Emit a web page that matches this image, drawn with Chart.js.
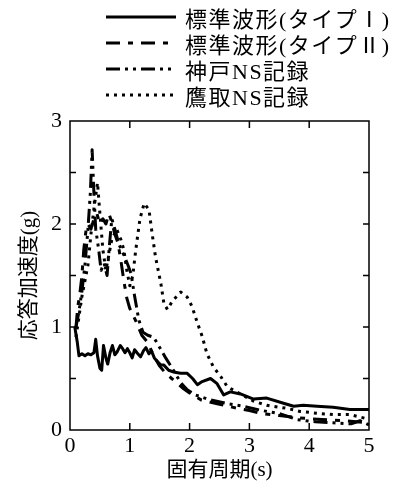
<!DOCTYPE html>
<html lang="ja">
<head>
<meta charset="UTF-8">
<title>応答加速度スペクトル</title>
<style>
    body {
        margin: 0;
        background: #fff;
        font-family: "Liberation Serif", "Noto Sans CJK JP", serif;
    }
    #wrap {
        position: relative;
        width: 413px;
        height: 488px;
    }
    #legend {
        position: absolute;
        left: 106px;
        top: 4px;
    }
    .row {
        display: flex;
        align-items: center;
        height: 26px;
        font-size: 22px;
        letter-spacing: 1.5px;
        color: #000;
        white-space: nowrap;
    }
    .row svg {
        width: 70px;
        height: 10px;
        margin-right: 9px;
    }
</style>
</head>
<body>
<div id="wrap">
    <canvas id="spectrum" width="413" height="488"></canvas>
    <div id="legend"></div>
</div>

<script src="https://cdn.jsdelivr.net/npm/chart.js"></script>
<script>
// 固有周期 (s) と応答加速度 (g)
const typeIPeriod = [0.08, 0.12, 0.15, 0.2, 0.25, 0.3, 0.35, 0.4, 0.43, 0.46, 0.5, 0.53, 0.56, 0.6, 0.63, 0.67, 0.71, 0.75, 0.79, 0.84, 0.88, 0.92, 0.96, 1.0, 1.04, 1.08, 1.12, 1.18, 1.23, 1.27, 1.32, 1.36, 1.41, 1.47, 1.52, 1.57, 1.65, 1.75, 1.85, 1.96, 2.05, 2.13, 2.21, 2.35, 2.46, 2.57, 2.68, 2.85, 3.07, 3.29, 3.57, 3.74, 3.9, 4.13, 4.4, 4.68, 5.0];
const typeIAccel  = [1.0, 0.86, 0.72, 0.74, 0.72, 0.74, 0.73, 0.75, 0.88, 0.72, 0.6, 0.58, 0.82, 0.7, 0.64, 0.75, 0.82, 0.73, 0.76, 0.82, 0.79, 0.75, 0.79, 0.75, 0.7, 0.78, 0.75, 0.71, 0.77, 0.8, 0.74, 0.77, 0.7, 0.66, 0.63, 0.63, 0.58, 0.56, 0.55, 0.55, 0.5, 0.44, 0.47, 0.5, 0.45, 0.34, 0.37, 0.35, 0.3, 0.31, 0.26, 0.23, 0.24, 0.23, 0.22, 0.2, 0.2];

const typeIIPeriod = [0.1, 0.13, 0.16, 0.2, 0.23, 0.27, 0.3, 0.35, 0.4, 0.45, 0.5, 0.55, 0.6, 0.65, 0.7, 0.75, 0.8, 0.85, 0.9, 0.95, 1.0, 1.1, 1.2, 1.3, 1.4, 1.5, 1.6, 1.7, 1.8, 1.9, 2.0, 2.2, 2.5, 2.8, 3.0, 3.2, 3.5, 3.8, 4.0, 4.3, 4.6, 5.0];
const typeIIAccel  = [1.0, 1.2, 1.3, 1.5, 1.75, 1.95, 2.0, 1.95, 2.05, 2.1, 2.0, 2.05, 2.0, 2.1, 2.02, 1.9, 1.82, 1.65, 1.45, 1.28, 1.18, 1.06, 0.92, 0.85, 0.72, 0.62, 0.55, 0.5, 0.45, 0.4, 0.36, 0.29, 0.25, 0.21, 0.19, 0.16, 0.14, 0.12, 0.11, 0.1, 0.09, 0.07];

const kobePeriod = [0.1, 0.15, 0.2, 0.25, 0.3, 0.34, 0.37, 0.4, 0.43, 0.48, 0.52, 0.57, 0.62, 0.66, 0.7, 0.75, 0.82, 0.9, 0.97, 1.02, 1.08, 1.15, 1.22, 1.3, 1.4, 1.5, 1.6, 1.73, 1.85, 1.96, 2.1, 2.3, 2.6, 2.9, 3.2, 3.5, 3.8, 4.1, 4.4, 4.7, 4.85, 5.0];
const kobeAccel  = [1.0, 1.15, 1.35, 1.6, 1.95, 2.3, 2.72, 2.3, 1.95, 1.75, 1.55, 1.62, 1.5, 1.8, 2.05, 1.95, 1.8, 1.7, 1.6, 1.52, 1.3, 1.07, 0.95, 0.92, 0.9, 0.8, 0.7, 0.58, 0.46, 0.39, 0.34, 0.3, 0.26, 0.23, 0.19, 0.16, 0.1, 0.08, 0.07, 0.06, 0.09, 0.05];

const takatoriPeriod = [0.1, 0.15, 0.2, 0.25, 0.3, 0.35, 0.4, 0.46, 0.5, 0.55, 0.6, 0.65, 0.7, 0.78, 0.85, 0.9, 0.95, 1.0, 1.05, 1.1, 1.17, 1.24, 1.32, 1.38, 1.43, 1.52, 1.57, 1.63, 1.71, 1.85, 1.96, 2.04, 2.13, 2.21, 2.29, 2.4, 2.52, 2.63, 2.79, 3.07, 3.29, 3.63, 3.85, 4.18, 4.4, 4.68, 4.96];
const takatoriAccel  = [0.9, 1.1, 1.3, 1.45, 1.6, 1.9, 2.15, 2.4, 2.1, 1.75, 1.55, 1.7, 1.85, 1.95, 1.85, 1.75, 1.55, 1.4, 1.5, 1.75, 2.05, 2.2, 2.14, 1.88, 1.68, 1.42, 1.23, 1.17, 1.25, 1.34, 1.29, 1.2, 1.04, 0.91, 0.74, 0.61, 0.52, 0.42, 0.37, 0.28, 0.24, 0.21, 0.18, 0.16, 0.15, 0.15, 0.11];

const xTicks = [0, 1, 2, 3, 4, 5];
const yTicks = [0, 1, 2, 3];

const series = [
    { label: '標準波形(タイプⅠ)', x: typeIPeriod, y: typeIAccel, dash: [] },
    { label: '標準波形(タイプⅡ)', x: typeIIPeriod, y: typeIIAccel, dash: [14, 8, 5, 8] },
    { label: '神戸NS記録', x: kobePeriod, y: kobeAccel, dash: [14, 5, 3, 5, 3, 5] },
    { label: '鷹取NS記録', x: takatoriPeriod, y: takatoriAccel, dash: [3, 5] }
];

function toPoints(xs, ys) {
    return xs.map((v, i) => ({ x: v, y: ys[i] }));
}

// 凡例 (HTML)
const legend = document.getElementById('legend');
series.forEach(s => {
    const row = document.createElement('div');
    row.className = 'row';
    const dash = s.dash.length ? s.dash.join(' ') : 'none';
    row.innerHTML = '<svg viewBox="0 0 70 10"><line x1="0" y1="5" x2="70" y2="5" stroke="#000" stroke-width="3" stroke-dasharray="' + dash + '"/></svg><span></span>';
    row.querySelector('span').textContent = s.label;
    legend.appendChild(row);
});

// 内向きの目盛りと枠
const frameTicks = {
    id: 'frameTicks',
    afterDatasetsDraw(chart) {
        const { ctx, chartArea: a, scales: { x, y } } = chart;
        ctx.save();
        ctx.strokeStyle = '#000';
        ctx.lineWidth = 1.5;
        ctx.strokeRect(a.left, a.top, a.right - a.left, a.bottom - a.top);
        ctx.beginPath();
        x.ticks.forEach(t => {
            if (t.value <= x.min || t.value >= x.max) return;
            const px = x.getPixelForValue(t.value);
            ctx.moveTo(px, a.bottom); ctx.lineTo(px, a.bottom - 7);
            ctx.moveTo(px, a.top); ctx.lineTo(px, a.top + 7);
        });
        y.ticks.forEach(t => {
            if (t.value <= y.min || t.value >= y.max) return;
            const py = y.getPixelForValue(t.value);
            ctx.moveTo(a.left, py); ctx.lineTo(a.left + 6, py);
            ctx.moveTo(a.right, py); ctx.lineTo(a.right - 6, py);
        });
        ctx.stroke();
        ctx.restore();
    }
};

Chart.defaults.color = '#000';
Chart.defaults.font.family = '"Liberation Serif", "Noto Sans CJK JP", serif';

new Chart(document.getElementById('spectrum'), {
    type: 'line',
    data: {
        datasets: series.map(s => ({
            label: s.label,
            data: toPoints(s.x, s.y),
            borderColor: '#000',
            borderWidth: 3,
            borderDash: s.dash,
            borderJoinStyle: 'round',
            pointRadius: 0,
            tension: 0,
            fill: false
        }))
    },
    options: {
        responsive: false,
        animation: false,
        layout: { padding: { top: 121, right: 44, left: 0, bottom: 0 } },
        plugins: {
            legend: { display: false },
            tooltip: { enabled: false }
        },
        scales: {
            x: {
                type: 'linear',
                min: 0,
                max: 5,
                afterFit(scale) { scale.height = 58; },
                afterBuildTicks(scale) { scale.ticks = xTicks.map(v => ({ value: v })); },
                grid: { display: false, drawTicks: false },
                border: { display: false },
                ticks: { padding: 3, font: { size: 22 }, maxRotation: 0 },
                title: {
                    display: true,
                    text: '固有周期(s)',
                    font: { size: 21 },
                    padding: { top: 0, bottom: 5 }
                }
            },
            y: {
                type: 'linear',
                min: 0,
                max: 3,
                afterFit(scale) { scale.width = 70; },
                ticks: {
                    stepSize: 0.5,
                    autoSkip: false,
                    padding: 8,
                    font: { size: 22 },
                    callback: v => yTicks.includes(v) ? String(v) : ''
                },
                grid: { display: false, drawTicks: false },
                border: { display: false },
                title: {
                    display: true,
                    text: '応答加速度(g)',
                    font: { size: 21 },
                    padding: { top: 17, bottom: 0 }
                }
            }
        }
    },
    plugins: [frameTicks]
});
</script>
</body>
</html>
